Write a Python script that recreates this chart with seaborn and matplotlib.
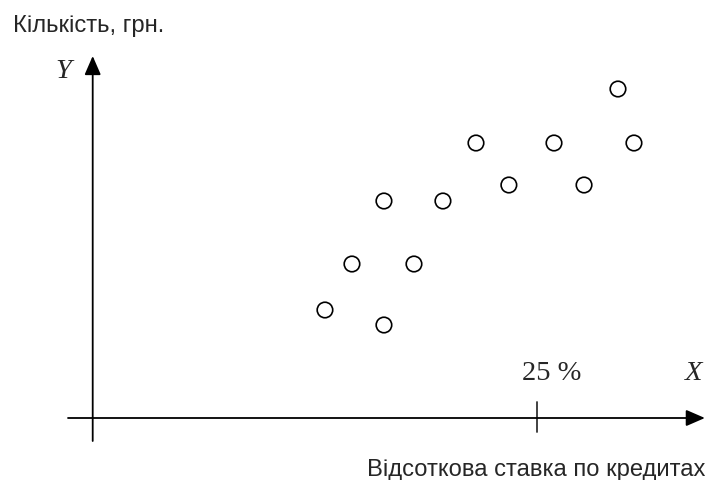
import matplotlib
matplotlib.use("Agg")
import matplotlib.pyplot as plt
import seaborn as sns
import pandas as pd
from matplotlib import font_manager

# ---- data (interest rate, %; amount, arbitrary units) ----
rate = [13.07, 14.59, 16.39, 16.39, 18.08, 19.71, 21.57, 23.42, 25.96, 27.65, 29.56, 30.46]
amount = [10.8, 15.4, 21.7, 9.3, 15.4, 21.7, 27.5, 23.3, 27.5, 23.3, 32.9, 27.5]
tick_value = 25
tick_label = "25 %"
y_title = "Кількість, грн."
x_title = "Відсоткова ставка по кредитах"

sns.set_style("white")
names = {f.name for f in font_manager.fontManager.ttflist}
sans = "Liberation Sans Narrow" if "Liberation Sans Narrow" in names else "Liberation Sans"
plt.rcParams["font.family"] = [sans, "DejaVu Sans"]
sans_size = 21 if sans == "Liberation Sans Narrow" else 17.1

fig = plt.figure(figsize=(7.07, 4.81), dpi=100)
ax = fig.add_axes([0, 0, 1, 1])

df = pd.DataFrame({"rate": rate, "amount": amount})
sns.scatterplot(data=df, x="rate", y="amount", ax=ax, marker="o", s=125,
                color="black", linewidth=1.2, legend=False)
ax.collections[0].set_facecolor("none")
ax.collections[0].set_edgecolor("black")

# axis limits so that origin sits at the drawn axes crossing
ax.set_xlim(-5.217, 34.57)
ax.set_ylim(-6.2, 41.9)
ax.axis("off")

arrow = dict(arrowstyle="-|>,head_length=1.15,head_width=0.5", color="black",
             lw=1.3, shrinkA=0, shrinkB=0)
ax.annotate("", xy=(34.45, 0), xytext=(-1.39, 0), arrowprops=arrow)
ax.annotate("", xy=(0, 36.2), xytext=(0, -2.3), arrowprops=arrow)

ax.plot([tick_value, tick_value], [1.6, -1.4], color="#333333", lw=1.3)

serif = ["Liberation Serif", "DejaVu Serif"]
ax.text(tick_value + 0.85, 3.9, tick_label, family=serif, fontsize=20.5,
        ha="center", va="baseline")
ax.text(33.8, 3.9, "X", family=serif, style="italic", fontsize=20.5,
        ha="center", va="baseline")
ax.text(-1.68, 34.1, "Y", family=serif, style="italic", fontsize=20.5,
        ha="center", va="baseline")

fig.text(13 / 707, 1 - 31.7 / 481, y_title, fontsize=sans_size, ha="left", va="baseline")
fig.text(705 / 707, 1 - 476 / 481, x_title, fontsize=sans_size, ha="right", va="baseline")

fig.savefig("out.png", dpi=100)
